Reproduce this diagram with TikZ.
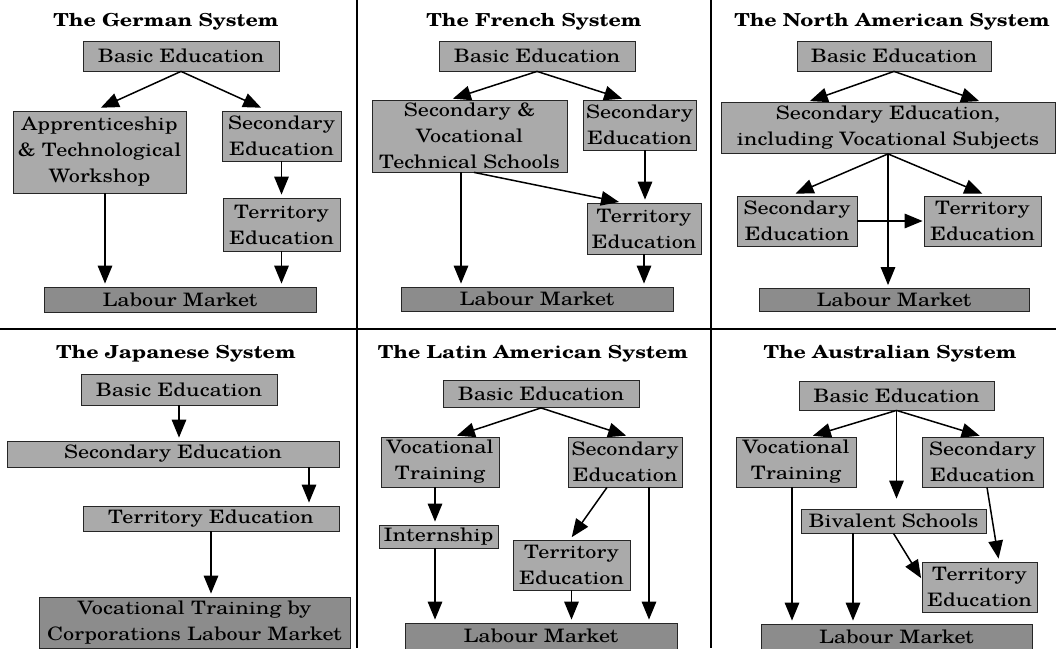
\documentclass[tikz,border=0pt]{standalone}
\usepackage{fontspec}
\setmainfont{TeX Gyre Schola}[FakeStretch=1.2]
\usetikzlibrary{arrows.meta,calc}
\definecolor{boxgray}{RGB}{170,170,170}
\definecolor{mktgray}{RGB}{140,140,140}
\newcommand{\figfont}{\fontsize{18.5}{26}\selectfont}
\tikzset{
  box/.style 2 args={draw=black!85,line width=0.8pt,fill=boxgray,inner sep=0pt,
    align=center,minimum width=#1,minimum height=#2},
  mkt/.style 2 args={box={#1}{#2},fill=mktgray},
  ttl/.style={font=\fontsize{17.9}{26}\selectfont\bfseries},
  arr/.style={-{Triangle[length=18pt,width=14.5pt]},line width=1.5pt,shorten >=3pt},
  sep/.style={line width=2.4pt}
}
\begin{document}
\begin{tikzpicture}[x=1pt,y=-1pt,font=\figfont]
\useasboundingbox[fill=white] (0,0) rectangle (1056,648);
% panel lines
\draw[sep] (357,0) -- (357,648);
\draw[sep] (711,0) -- (711,648);
\draw[sep] (0,329) -- (1056,329);

% German
\node[ttl] (gtitle) at (166,22) {The German System};
\node[box={196}{30}] (gbasic) at (181,56) {Basic Education};
\node[box={173}{82}] (gapp) at (99.5,152) {Apprenticeship\\\& Technological\\Workshop};
\node[box={119}{50}] (gsec) at (281.5,136) {Secondary\\Education};
\node[box={117}{53}] (gter) at (281.5,224.5) {Territory\\Education};
\node[mkt={272}{25}] (glab) at (180,299.5) {Labour Market};
\draw[arr,shorten >=7pt] (gbasic.south) -- ([xshift=-5]gapp.north);
\draw[arr,shorten >=7pt] (gbasic.south) -- ([xshift=-14]gsec.north);
\draw[arr] ([xshift=5.5]gapp.south) -- ([xshift=5.5]gapp.south |- glab.north);
\draw[arr] (gsec.south) -- (gsec.south |- gter.north);
\draw[arr] (gter.south) -- (gter.south |- glab.north);

% French
\node[ttl] (ftitle) at (534,22) {The French System};
\node[box={196}{30}] (fbasic) at (537,56) {Basic Education};
\node[box={195}{72}] (fsv) at (469.5,136) {Secondary \&\\Vocational\\Technical Schools};
\node[box={113}{50}] (fsec) at (639.5,125) {Secondary\\Education};
\node[box={114}{51}] (fter) at (644,228.5) {Territory\\Education};
\node[mkt={272}{24}] (flab) at (537,299) {Labour Market};
\draw[arr] (fbasic.south) -- ([xshift=-19.5]fsv.north);
\draw[arr] (fbasic.south) -- ([xshift=-14.5]fsec.north);
\draw[arr] ([xshift=-8.5]fsv.south) -- ([xshift=-8.5]fsv.south |- flab.north);
\draw[arr] ([xshift=4.5]fsv.south) -- ([xshift=-22]fter.north);
\draw[arr] ([xshift=5.5]fsec.south) -- ([xshift=5.5]fsec.south |- fter.north);
\draw[arr] (fter.south) -- (fter.south |- flab.north);

% North American
\node[ttl] (ntitle) at (892,22) {The North American System};
\node[box={194}{30}] (nbasic) at (894,56) {Basic Education};
\node[box={334}{51}] (nsec) at (888,128) {Secondary Education,\\including Vocational Subjects};
\node[box={120}{50}] (nsec2) at (797,221) {Secondary\\Education};
\node[box={117}{50}] (nter) at (982.5,221) {Territory\\Education};
\node[mkt={270}{23}] (nlab) at (894,300) {Labour Market};
\draw[arr] (nbasic.south) -- ([xshift=-81]nsec.north);
\draw[arr] (nbasic.south) -- ([xshift=94]nsec.north);
\draw[arr,shorten >=5pt] (nsec.south) -- ([xshift=-6]nsec2.north);
\draw[arr,shorten >=5pt] (nsec.south) -- ([xshift=4.5]nter.north);
\draw[arr] (nsec.south) -- (nsec.south |- nlab.north);
\draw[arr,shorten >=1pt] (nsec2.east) -- (nter.west);

% Japanese
\node[ttl] (jtitle) at (176,354) {The Japanese System};
\node[box={196}{31}] (jbasic) at (179,389.5) {Basic Education};
\node[box={332}{26}] (jsec) at (173,454) {Secondary Education};
\node[box={256}{25}] (jter) at (211,518.5) {Territory Education};
\node[mkt={311}{51}] (jlab) at (194.5,622.5) {Vocational Training by\\Corporations Labour Market};
\draw[arr] (jbasic.south) -- (jbasic.south |- jsec.north);
\draw[arr] ([xshift=136]jsec.south) -- ([xshift=136]jsec.south |- jter.north);
\draw[arr] (jter.south) -- (jter.south |- jlab.north);

% Latin American
\node[ttl] (ltitle) at (533,354) {The Latin American System};
\node[box={196}{27}] (lbasic) at (541,394) {Basic Education};
\node[box={118}{50}] (lvoc) at (440,462) {Vocational\\Training};
\node[box={114}{50}] (lsec) at (625,462) {Secondary\\Education};
\node[box={119}{23}] (lint) at (438.5,536.5) {Internship};
\node[box={117}{50}] (lter) at (571.5,565) {Territory\\Education};
\node[mkt={272}{26}] (llab) at (541,636) {Labour Market};
\draw[arr] (lbasic.south) -- ([xshift=14]lvoc.north);
\draw[arr] (lbasic.south) -- ([xshift=4]lsec.north);
\draw[arr] ([xshift=-5]lvoc.south) -- ([xshift=-5]lvoc.south |- lint.north);
\draw[arr] ([xshift=-18]lsec.south) -- ([xshift=-1.5]lter.north);
\draw[arr] ([xshift=24]lsec.south) -- ([xshift=24]lsec.south |- llab.north);
\draw[arr] ([xshift=-3.5]lint.south) -- ([xshift=-3.5]lint.south |- llab.north);
\draw[arr] (lter.south) -- (lter.south |- llab.north);

% Australian
\node[ttl] (atitle) at (890,354) {The Australian System};
\node[box={195}{29}] (abasic) at (896.5,395.5) {Basic Education};
\node[box={120}{50}] (avoc) at (796,462) {Vocational\\Training};
\node[box={121}{50}] (asec) at (982.5,462) {Secondary\\Education};
\node[box={185}{24}] (abiv) at (893.5,521) {Bivalent Schools};
\node[box={115}{50}] (ater) at (979.5,587) {Territory\\Education};
\node[mkt={271}{25}] (alab) at (896.5,636.5) {Labour Market};
\draw[arr] (abasic.south) -- ([xshift=14]avoc.north);
\draw[arr,shorten >=10pt] (abasic.south) -- (abasic.south |- abiv.north);
\draw[arr] (abasic.south) -- (asec.north);
\draw[arr] ([xshift=-4]avoc.south) -- ([xshift=-4]avoc.south |- alab.north);
\draw[arr] ([xshift=-40.5]abiv.south) -- ([xshift=-40.5]abiv.south |- alab.north);
\draw[arr,shorten >=1pt] (abiv.south) -- ([yshift=8]ater.west);
\draw[arr] ([xshift=4.5]asec.south) -- ([xshift=19.5]ater.north);
\end{tikzpicture}
\end{document}
